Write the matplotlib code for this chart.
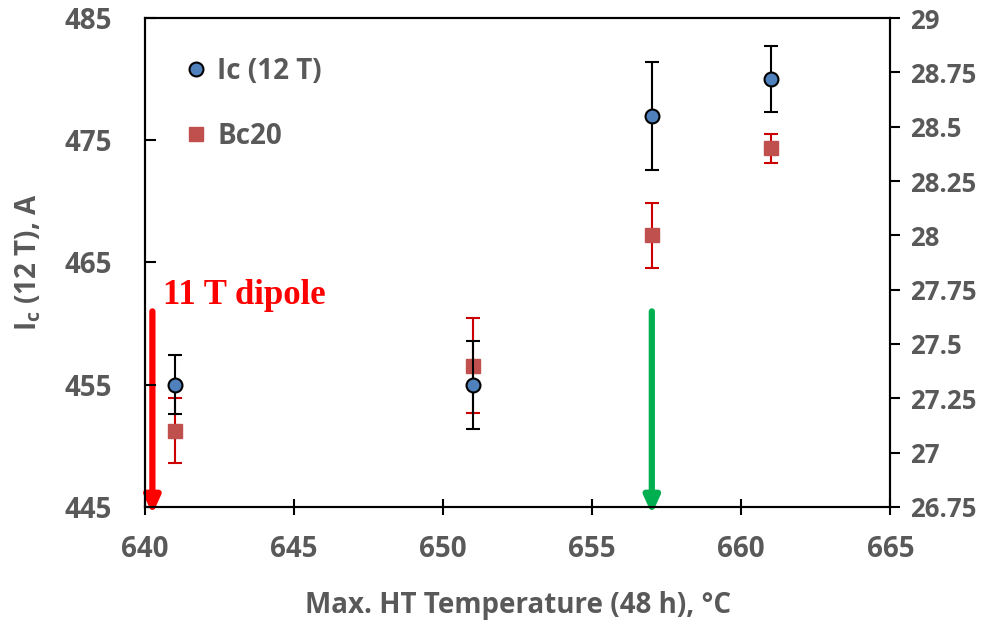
import matplotlib
matplotlib.use("Agg")
import matplotlib.pyplot as plt
from matplotlib.lines import Line2D

temps = [641, 651, 657, 661]
ic_vals = [455.0, 455.0, 477.0, 480.0]
ic_err = [2.4, 3.6, 4.4, 2.7]
bc20_vals = [27.10, 27.40, 28.00, 28.40]
bc20_err = [0.15, 0.22, 0.15, 0.065]

xticks = [640, 645, 650, 655, 660, 665]
left_ticks = [445, 455, 465, 475, 485]
right_ticks = [26.75, 27, 27.25, 27.5, 27.75, 28, 28.25, 28.5, 28.75, 29]
right_labels = ["26.75", "27", "27.25", "27.5", "27.75", "28", "28.25", "28.5", "28.75", "29"]

arrow_x = [640.25, 657.0]
arrow_colors = ["#FF0000", "#00B050"]

gray = "#595959"
plt.rcParams['font.family'] = ['Open Sans', 'DejaVu Sans']
plt.rcParams['font.weight'] = 'bold'
plt.rcParams['mathtext.fontset'] = 'custom'
plt.rcParams['mathtext.bf'] = 'Open Sans:bold'
plt.rcParams['mathtext.rm'] = 'Open Sans:bold'
plt.rcParams['mathtext.default'] = 'bf'

fig = plt.figure(figsize=(9.86, 6.22), dpi=100)
ax = fig.add_axes([0.147, 0.185, 0.756, 0.786])
ax2 = ax.twinx()

ax.set_xlim(640, 665)
ax.set_ylim(445, 485)
ax2.set_ylim(26.75, 29)

ax.set_xticks(xticks)
ax.set_yticks(left_ticks)
ax2.set_yticks(right_ticks)
ax2.set_yticklabels(right_labels)

for a in (ax, ax2):
    for s in a.spines.values():
        s.set_linewidth(1.5)
        s.set_color("black")

ax.tick_params(axis='x', direction='inout', length=12, width=1.5, labelsize=20, labelcolor=gray, pad=14)
ax.tick_params(axis='y', direction='in', length=8, width=1.5, labelsize=20, labelcolor=gray, pad=24)
ax2.tick_params(axis='y', direction='out', length=7, width=1.5, labelsize=18.5, labelcolor=gray, pad=7)
for lab in ax.get_xticklabels() + ax.get_yticklabels() + ax2.get_yticklabels():
    lab.set_fontweight('bold')

ax.set_xlabel("Max. HT Temperature (48 h), °C", fontsize=20, color=gray, fontweight='bold', labelpad=20)
ax.set_ylabel(r"I$_\mathregular{c}$ (12 T), A", fontsize=20, color=gray, fontweight='bold', labelpad=15)

# arrows
for xv, c in zip(arrow_x, arrow_colors):
    ax.annotate("", xy=(xv, 444.4), xytext=(xv, 461.0),
                arrowprops=dict(arrowstyle="-|>,head_width=0.45,head_length=1.0", color=c, lw=4.5,
                                shrinkA=0, shrinkB=0),
                annotation_clip=False, zorder=1)

ax.text(640.6, 462.3, "11 T dipole", color="#FF0000", fontsize=25, fontweight='bold',
        family=['Liberation Serif'], va='center', ha='left')

ax2.errorbar(temps, bc20_vals, yerr=bc20_err, fmt='s', color="#C0504D", markersize=10,
             markeredgecolor="#C0504D", ecolor="#CC0000", elinewidth=1.5, capsize=5, capthick=1.5, zorder=2)
ax.errorbar(temps, ic_vals, yerr=ic_err, fmt='o', color="#4F81BD", markersize=10,
            markeredgecolor="black", markeredgewidth=1.5, ecolor="black", elinewidth=1.5, capsize=5,
            capthick=1.5, zorder=3)

ax.set_zorder(ax2.get_zorder() + 1)
ax.patch.set_visible(False)

handles = [Line2D([], [], marker='o', linestyle='none', markersize=10, markerfacecolor="#4F81BD",
                  markeredgecolor='black', markeredgewidth=1.5),
           Line2D([], [], marker='s', linestyle='none', markersize=9.5, markerfacecolor="#C0504D",
                  markeredgecolor="#C0504D")]
leg = ax.legend(handles, ["Ic (12 T)", "Bc20"], loc='upper left', bbox_to_anchor=(0.013, 0.972),
                frameon=False, fontsize=20, labelspacing=1.3, handletextpad=0.15, handlelength=1.2)
for t in leg.get_texts():
    t.set_color(gray)
    t.set_fontweight('bold')

fig.savefig("out.png", dpi=100)
